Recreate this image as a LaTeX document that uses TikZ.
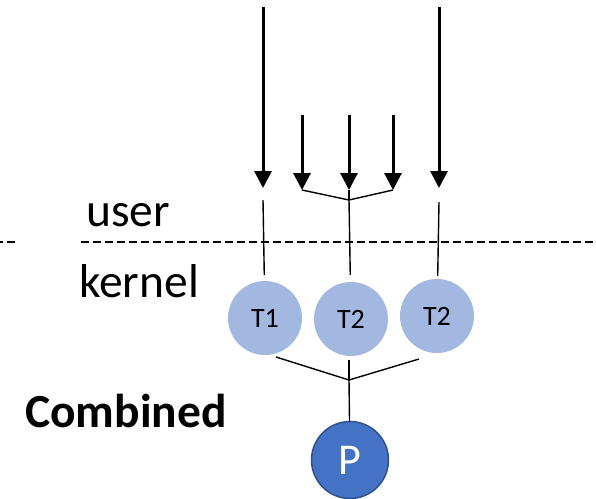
\documentclass[tikz,border=0pt]{standalone}
\usepackage{fontspec}
\setmainfont{Carlito}
\usetikzlibrary{arrows.meta}
\definecolor{threadblue}{HTML}{A3B8E0}
\definecolor{procblue}{HTML}{4472C4}
\definecolor{procedge}{HTML}{2F528F}
\begin{document}
\begin{tikzpicture}[x=1pt,y=-1pt,
    thread node/.style={circle,fill=threadblue,minimum size=74pt,inner sep=0pt,font=\fontsize{28}{30}\selectfont},
    proc node/.style={circle,draw=procedge,line width=1.5pt,fill=procblue,text=white,minimum size=77pt,inner sep=0pt,font=\fontsize{44}{46}\selectfont},
    call/.style={line width=3pt,-{Triangle[width=17pt,length=17pt]}},
    link/.style={line width=1.4pt},
    sep line/.style={line width=1.5pt,dash pattern=on 8pt off 4pt},
    big text/.style={anchor=base west,inner sep=0pt,font=\fontsize{47.5}{50}\selectfont} ]
    \useasboundingbox (0,0) rectangle (596,498);
    \node at (86,226) [big text] (user) {user};
    \node at (79,297) [big text] (kernel) {kernel};
    \node at (25,427) [big text,font=\fontsize{47.5}{50}\selectfont\bfseries] (comb) {Combined};
    \draw [sep line,dash phase=5pt] (0,242) -- (15,242);
    \draw [sep line] (81,242) -- (596,242);
    \node at (265,318) [thread node] (T1) {T1};
    \node at (351,319) [thread node] (T2a) {T2};
    \node at (437,316) [thread node] (T2b) {T2};
    \node at (350,460) [proc node] (P) {P};
    \coordinate (s1) at (263,7);    \coordinate (e1) at (263,188);
    \coordinate (s2) at (302,115);  \coordinate (e2) at (302,190);
    \coordinate (s3) at (349,115);  \coordinate (e3) at (349,190);
    \coordinate (s4) at (393,115);  \coordinate (e4) at (393,190);
    \coordinate (s5) at (439,7);    \coordinate (e5) at (439,188);
    \draw [call] (s1) to (e1);
    \draw [call] (s2) to (e2);
    \draw [call] (s3) to (e3);
    \draw [call] (s4) to (e4);
    \draw [call] (s5) to (e5);
    \coordinate (j1) at (349,200);
    \coordinate (k1) at (263,200);
    \coordinate (k5) at (439,202);
    \draw [link] (e2) to (j1);
    \draw [link] (e4) to (j1);
    \draw [link] (e3) to (j1);
    \draw [link,shorten >=6pt] (k1) to (T1);
    \draw [link,shorten >=7pt] (j1) to (T2a);
    \draw [link,shorten >=3pt] (k5) to (T2b);
    \coordinate (b1) at (276,357);
    \coordinate (b2) at (349,360);
    \coordinate (b3) at (419,359);
    \coordinate (j2) at (349,380);
    \draw [link] (b1) to (j2);
    \draw [link] (b3) to (j2);
    \draw [link] (b2) to (j2);
    \draw [link] (j2) to (P);
\end{tikzpicture}
\end{document}
